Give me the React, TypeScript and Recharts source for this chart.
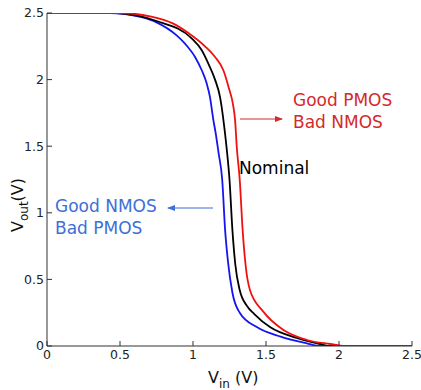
import React from "react";
import { LineChart, Line, XAxis, YAxis } from "recharts";

// transfer curves (Vin, Vout)
const nominalVin = [0, 0.47, 0.62, 0.75, 0.991, 1.06, 1.105, 1.151, 1.185, 1.208, 1.23, 1.25, 1.27, 1.29, 1.32, 1.37, 1.42, 1.53, 1.71, 1.87, 1.94, 2.5];
const nominalVout = [2.5, 2.5, 2.48, 2.44, 2.31, 2.22, 2.12, 2.0, 1.87, 1.7, 1.49, 1.25, 0.87, 0.61, 0.42, 0.3, 0.24, 0.14, 0.06, 0.015, 0, 0];

const goodPmosVin = [0, 0.5, 0.705, 0.865, 0.968, 1.082, 1.151, 1.208, 1.242, 1.276, 1.288, 1.3, 1.32, 1.34, 1.36, 1.39, 1.48, 1.62, 1.78, 1.94, 2.04, 2.5];
const goodPmosVout = [2.5, 2.5, 2.475, 2.42, 2.35, 2.25, 2.17, 2.07, 1.95, 1.8, 1.7, 1.49, 1.25, 0.87, 0.61, 0.42, 0.26, 0.12, 0.045, 0.015, 0, 0];

const goodNmosVin = [0, 0.43, 0.64, 0.75, 0.89, 0.945, 1.014, 1.06, 1.094, 1.116, 1.139, 1.158, 1.175, 1.2, 1.22, 1.24, 1.27, 1.32, 1.44, 1.6, 1.78, 1.87, 2.5];
const goodNmosVout = [2.5, 2.5, 2.47, 2.43, 2.33, 2.27, 2.17, 2.07, 1.97, 1.87, 1.7, 1.58, 1.45, 1.25, 0.87, 0.63, 0.4, 0.25, 0.14, 0.07, 0.02, 0, 0];

const ticks = [0, 0.5, 1, 1.5, 2, 2.5];
const tickLabels = ["0", "0.5", "1", "1.5", "2", "2.5"];

const toRows = (xs: number[], ys: number[]) => xs.map((x, i) => ({ vin: x, vout: ys[i] }));

const font = "DejaVu Sans, sans-serif";
const axisColor = "#333";
const tickStyle = { fontSize: 12.5, fill: "#222", fontFamily: font };
const fmt = (v: number) => tickLabels[ticks.indexOf(v)] ?? String(v);

export default function App() {
  return (
    <div style={{ position: "absolute", left: 0, top: 0, width: 421, height: 390, background: "white" }}>
      <LineChart width={421} height={390} margin={{ top: 13, right: 9, bottom: 0, left: 0 }}>
        <XAxis
          xAxisId="x"
          type="number"
          dataKey="vin"
          domain={[0, 2.5]}
          ticks={ticks}
          tickFormatter={fmt}
          height={44}
          tickSize={-5}
          tickMargin={9}
          tick={tickStyle}
          stroke={axisColor}
          allowDataOverflow
        />
        <XAxis
          xAxisId="xt"
          orientation="top"
          type="number"
          dataKey="vin"
          domain={[0, 2.5]}
          ticks={ticks}
          height={0}
          tickSize={-5}
          tick={false}
          stroke={axisColor}
        />
        <YAxis
          yAxisId="y"
          type="number"
          domain={[0, 2.5]}
          ticks={ticks}
          tickFormatter={fmt}
          width={47}
          tickSize={-5}
          tickMargin={8}
          tick={tickStyle}
          stroke={axisColor}
          allowDataOverflow
        />
        <YAxis
          yAxisId="yr"
          orientation="right"
          type="number"
          domain={[0, 2.5]}
          ticks={ticks}
          width={0}
          tickSize={-5}
          tick={false}
          stroke={axisColor}
        />
        <Line
          xAxisId="x"
          yAxisId="y"
          data={toRows(goodNmosVin, goodNmosVout)}
          dataKey="vout"
          type="monotone"
          stroke="#1515f0"
          strokeWidth={1.8}
          dot={false}
          isAnimationActive={false}
        />
        <Line
          xAxisId="x"
          yAxisId="y"
          data={toRows(nominalVin, nominalVout)}
          dataKey="vout"
          type="monotone"
          stroke="#000000"
          strokeWidth={1.8}
          dot={false}
          isAnimationActive={false}
        />
        <Line
          xAxisId="x"
          yAxisId="y"
          data={toRows(goodPmosVin, goodPmosVout)}
          dataKey="vout"
          type="monotone"
          stroke="#f01010"
          strokeWidth={1.8}
          dot={false}
          isAnimationActive={false}
        />
      </LineChart>
      <svg width={421} height={390} style={{ position: "absolute", left: 0, top: 0, pointerEvents: "none" }}>
        <defs>
          <marker id="arrRed" markerWidth="8" markerHeight="6" refX="7" refY="3" orient="auto">
            <path d="M0,0 L8,3 L0,6 z" fill="#d42a2a" />
          </marker>
          <marker id="arrBlue" markerWidth="8" markerHeight="6" refX="7" refY="3" orient="auto">
            <path d="M0,0 L8,3 L0,6 z" fill="#3d6fd6" />
          </marker>
        </defs>
        <g fontFamily={font} fontSize={17}>
          <text x={293} y={106} fill="#d42a2a">Good PMOS</text>
          <text x={293} y={128} fill="#d42a2a">Bad NMOS</text>
          <line x1={240} y1={119} x2={282} y2={119} stroke="#d42a2a" strokeWidth={1} markerEnd="url(#arrRed)" />
          <text x={239} y={174} fill="#000">Nominal</text>
          <text x={55} y={212} fill="#3d6fd6">Good NMOS</text>
          <text x={55} y={234} fill="#3d6fd6">Bad PMOS</text>
          <line x1={213} y1={208} x2={168} y2={208} stroke="#3d6fd6" strokeWidth={1} markerEnd="url(#arrBlue)" />
        </g>
        <text x={208} y={383} fontFamily={font} fontSize={16} fill="#111">
          V<tspan fontSize={12} dy={5}>in</tspan>
          <tspan dy={-5}> (V)</tspan>
        </text>
        <text transform="translate(23,232) rotate(-90)" fontFamily={font} fontSize={16} fill="#111">
          V<tspan fontSize={12} dy={5}>out</tspan>
          <tspan dy={-5}>(V)</tspan>
        </text>
      </svg>
    </div>
  );
}
